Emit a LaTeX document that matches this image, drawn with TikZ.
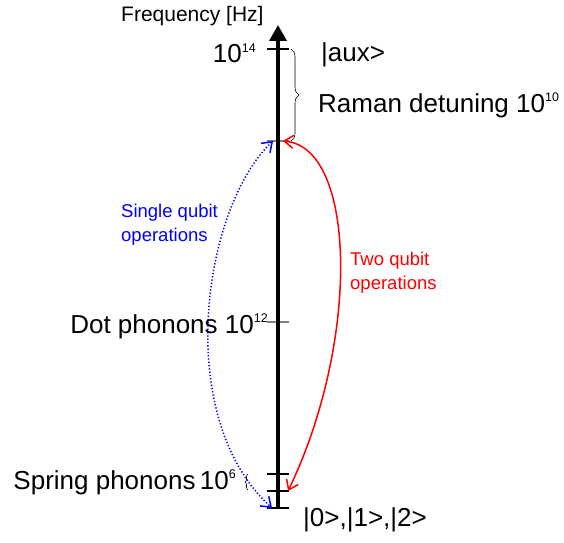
\documentclass[tikz,border=0pt]{standalone}
\usepackage{fontspec}
\setmainfont{Liberation Sans}
\usetikzlibrary{arrows.meta, decorations.pathreplacing}
\tikzset{
  axis/.style   = {line width=3.6pt, -{Triangle[length=16pt, width=17pt]}},
  major/.style  = {line width=1.6pt, black},
  minor/.style  = {line width=1.2pt, black!50},
  lab/.style    = {font=\fontsize{26}{30}\selectfont, inner sep=0pt},
  small/.style  = {font=\fontsize{21}{24}\selectfont, inner sep=0pt},
  oplab/.style  = {font=\fontsize{18.5}{24}\selectfont, align=left, inner sep=0pt},
  op/.style     = {line width=1.5pt, {Straight Barb[length=9pt, width=13pt]}-{Straight Barb[length=9pt, width=13pt]}},
  gap/.style    = {decorate, decoration={brace, amplitude=#1}, semithick},
}
\newcommand{\pw}[1]{\raisebox{10.5pt}{\fontsize{12.5}{12}\selectfont #1}}

\begin{document}
\begin{tikzpicture}[x=1pt, y=1pt]
  \useasboundingbox (0,0) rectangle (564,542);

  % levels on the frequency axis
  \coordinate (lev0)  at (278,34);
  \coordinate (lev1)  at (278,51);
  \coordinate (lev2)  at (278,68);
  \coordinate (dot)   at (278,220);
  \coordinate (raman) at (278,401);
  \coordinate (aux)   at (278,493);
  \coordinate (top)   at (278,517);

  \foreach \c in {aux, lev2, lev1, lev0}
    \draw[major] ([xshift=-11pt]\c) -- ([xshift=11pt]\c);
  \foreach \c in {raman, dot}
    \draw[minor] ([xshift=-11pt]\c) -- ([xshift=11pt]\c);
  \draw[axis] (lev0) -- (top);

  \node[small, anchor=base west] (freq) at (121,520) {Frequency [Hz]};
  \node[lab, anchor=base east] (e14) at (256,479) {10\pw{14}};
  \node[lab, anchor=base west] (auxlab) at (321,480) {|aux>};
  \node[lab, anchor=base west] (ramlab) at (318,430) {Raman detuning 10\pw{10}};
  \node[lab, anchor=base east] (dotlab) at (268,209) {Dot phonons 10\pw{12}};
  \node[lab, anchor=base east] (sprlab) at (236,53) {Spring phonons\,10\pw{6}};
  \node[lab, anchor=base west] (gnd) at (303,16) {|0>,|1>,|2>};

  % braces for the gaps
  \draw[gap=8pt] ([xshift=13pt]aux) -- ([xshift=13pt]raman);
  \draw[gap=3pt] (248,52) -- (248,68);

  % operations
  \draw[op, blue, dash pattern=on 1.3pt off 2pt] ([xshift=-5pt]raman)
    .. controls (203,335) and (172,125) .. ([xshift=-6pt]lev0);
  \draw[op, red] ([xshift=5pt]raman)
    .. controls (357,395) and (360,200) .. ([xshift=10pt]lev1);
  \node[oplab, blue, anchor=base west] (single) at (121,301) {Single qubit\\operations};
  \node[oplab, red, anchor=base west] (two) at (350,253) {Two qubit\\operations};
\end{tikzpicture}
\end{document}
